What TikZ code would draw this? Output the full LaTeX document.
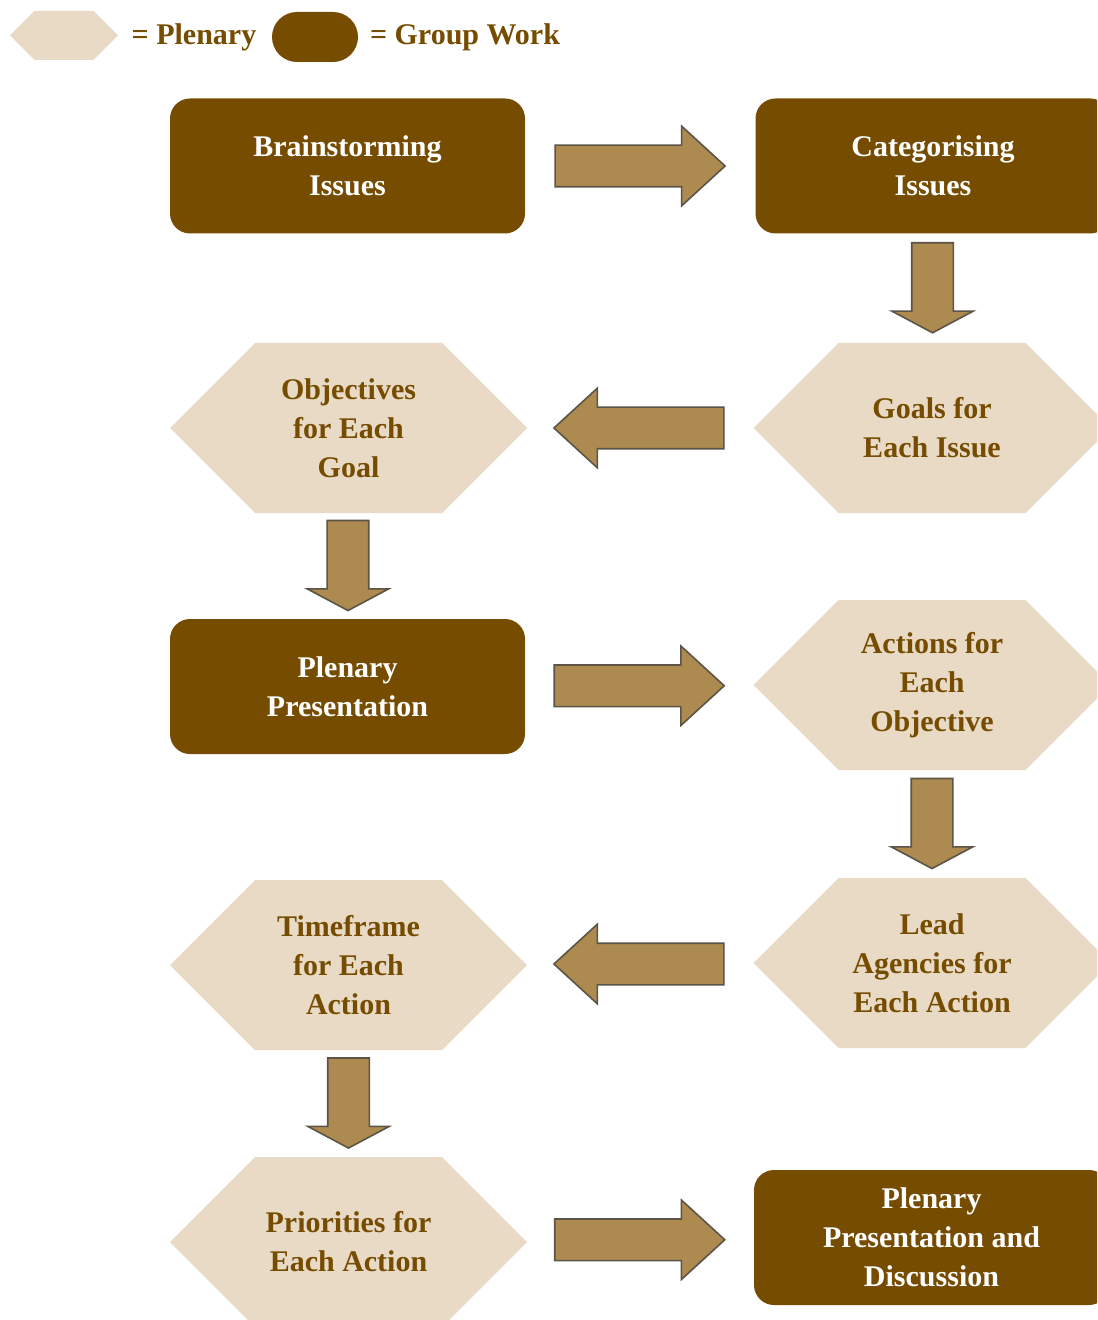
\documentclass[tikz,border=0pt]{standalone}
\usepackage{fontspec}
\setmainfont{Liberation Serif}
\usetikzlibrary{shapes.symbols,shapes.arrows}

\definecolor{groupbrown}{HTML}{754C00}
\definecolor{plenbeige}{HTML}{E8DAC5}
\definecolor{arrowtan}{HTML}{AD8A50}
\definecolor{arrowedge}{HTML}{5C5447}

\tikzset{
  labelfont/.style={font=\bfseries\fontsize{15}{19.5}\selectfont},
  groupbox/.style={rectangle, rounded corners=10pt, fill=groupbrown, text=white,
    minimum width=177.5pt, minimum height=67.5pt, align=center, labelfont},
  plenhex/.style={signal, signal to=west and east, signal pointer angle=90,
    fill=plenbeige, text=groupbrown, minimum width=178.5pt, minimum height=85pt,
    align=center, labelfont},
  flowarrow/.style={single arrow, fill=arrowtan, draw=arrowedge, line width=0.8pt,
    inner xsep=0pt, inner ysep=10pt, minimum height=85pt,
    single arrow head extend=9.5pt, single arrow tip angle=85},
  rightarrow/.style={flowarrow, xshift=-5.75pt},
  leftarrow/.style={flowarrow, rotate=180, xshift=-5pt},
  downarrow/.style={flowarrow, minimum height=45pt,
    single arrow head extend=10pt, single arrow tip angle=124, rotate=-90, xshift=-3pt}
}

\begin{document}
\begin{tikzpicture}[x=0.5pt,y=-0.5pt]
  \useasboundingbox (0,0) rectangle (1097,1320);
  \clip (0,0) rectangle (1097,1320);

  % Legend
  \node[plenhex, minimum width=54pt, minimum height=24.5pt] (keyplen) at (64,35.5) {};
  \node[text=groupbrown, labelfont] (keyplentext) at (194,37) {= Plenary};
  \node[groupbox, rounded corners=12.5pt, minimum width=43pt, minimum height=25pt] (keygroup) at (315,37) {};
  \node[text=groupbrown, labelfont] (keygrouptext) at (465,37) {= Group Work};

  % Steps
  \node[groupbox] (brain) at (347.5,166) {Brainstorming\\Issues};
  \node[groupbox] (categ) at (933,166) {Categorising\\Issues};
  \node[plenhex] (obj) at (348.5,428) {Objectives\\for Each\\Goal};
  \node[plenhex] (goals) at (932,428) {Goals for\\Each Issue};
  \node[groupbox] (plen) at (347.5,686.5) {Plenary\\Presentation};
  \node[plenhex] (actions) at (932,685) {Actions for\\Each\\Objective};
  \node[plenhex] (time) at (348.5,965) {Timeframe\\for Each\\Action};
  \node[plenhex] (lead) at (932,963) {Lead\\Agencies for\\Each Action};
  \node[plenhex] (prio) at (348.5,1242) {Priorities for\\Each Action};
  \node[groupbox] (disc) at (931.5,1237.5) {Plenary\\Presentation and\\Discussion};

  % Block arrows between steps
  \path (brain) -- node[rightarrow] {} (categ);
  \path (categ) -- node[downarrow] {} (goals);
  \path (goals) -- node[leftarrow] {} (obj);
  \path (obj) -- node[downarrow] {} (plen);
  \path (plen) -- node[rightarrow] {} (actions);
  \path (actions) -- node[downarrow] {} (lead);
  \path (lead) -- node[leftarrow] {} (time);
  \path (time) -- node[downarrow] {} (prio);
  \path (prio) -- node[rightarrow] {} (disc);
\end{tikzpicture}
\end{document}
